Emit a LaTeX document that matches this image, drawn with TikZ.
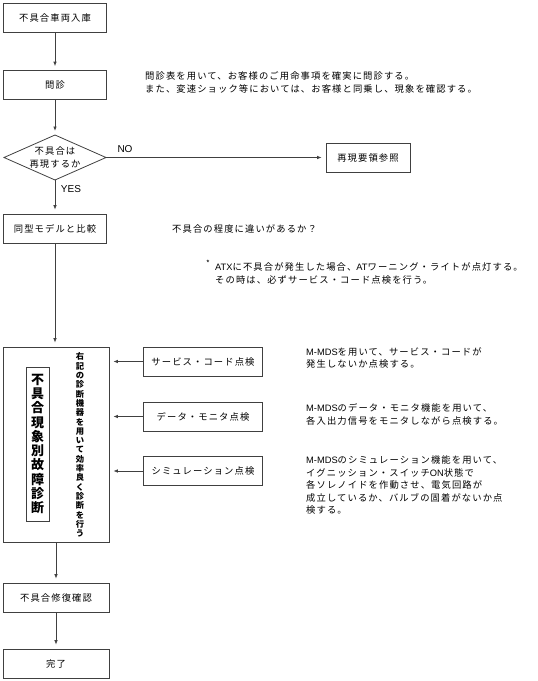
\documentclass[tikz,border=0pt]{standalone}
\usepackage{fontspec}
\setmainfont{Noto Sans CJK JP}
\newfontfamily\lat{Liberation Sans}
\usetikzlibrary{shapes.geometric,arrows.meta}
\begin{document}
\begin{tikzpicture}[x=1pt,y=-1pt,
  ln/.style={draw=black!75, line width=0.8pt},
  jtxt/.style={font=\fontsize{9.3}{12.5}\selectfont\addfontfeature{LetterSpace=12}},
  box/.style={ln, rectangle, inner sep=0pt, jtxt},
  arr/.style={ln, -{Latex[length=4.5pt,width=3.6pt]}, shorten >=4pt},
  note/.style={anchor=west, align=left, inner sep=0pt, jtxt},
  lbl/.style={inner sep=0pt, font=\lat\fontsize{10}{12}\selectfont}]
\useasboundingbox (0,0) rectangle (538,681);

% main column
\node[box, minimum width=103pt, minimum height=29pt] (b1) at (55,17.5) {不具合車両入庫};
\node[box, minimum width=103pt, minimum height=29pt] (b2) at (55,85) {問診};
\coordinate (dN) at (55,135);
\coordinate (dE) at (106,157.5);
\coordinate (dS) at (55,180);
\coordinate (dW) at (4,157.5);
\draw[ln] (dN) -- (dE) -- (dS) -- (dW) -- cycle;
\node[inner sep=0pt, align=center, jtxt] (d) at (55,157.5) {不具合は\\再現するか};
\node[box, minimum width=84pt, minimum height=29pt] (r) at (368,157.5) {再現要領参照};
\node[box, minimum width=103pt, minimum height=29pt] (b3) at (55,228.5) {同型モデルと比較};
\node[ln, rectangle, inner sep=0pt, minimum width=106pt, minimum height=195pt] (big) at (56,444.5) {};
\node[ln, rectangle, inner sep=0pt, minimum width=23pt, minimum height=154pt, align=center,
      font=\fontsize{13}{14.3}\selectfont\bfseries] (title) at (37.5,444) {不\\具\\合\\現\\象\\別\\故\\障\\診\\断};
\node[inner sep=0pt, align=center, font=\fontsize{8.3}{9.3}\selectfont\bfseries] (vt) at (80,445)
  {右\\記\\の\\診\\断\\機\\器\\を\\用\\い\\て\\効\\率\\良\\く\\診\\断\\を\\行\\う};
\node[box, minimum width=106pt, minimum height=29pt] (b4) at (56,597.5) {不具合修復確認};
\node[box, minimum width=106pt, minimum height=29pt] (b5) at (56,663.5) {完了};

% side boxes
\node[box, minimum width=119pt, minimum height=29pt] (s1) at (203,361.5) {サービス・コード点検};
\node[box, minimum width=119pt, minimum height=29pt] (s2) at (203,416.5) {データ・モニタ点検};
\node[box, minimum width=119pt, minimum height=29pt] (s3) at (203,471) {シミュレーション点検};

% connectors
\draw[arr] (b1) -- (b2);
\draw[arr] (b2) -- (dN);
\draw[arr] (dE) -- (r.west);
\draw[arr] (dS) -- (b3.north);
\draw[arr] (b3.south) -- (b3.south |- big.north);
\draw[arr] (big.south -| b4.north) -- (b4.north);
\draw[arr] (b4) -- (b5);
\draw[arr] (s1.west) -- (s1.west -| big.east);
\draw[arr] (s2.west) -- (s2.west -| big.east);
\draw[arr] (s3.west) -- (s3.west -| big.east);

% labels
\node[lbl] (no) at (125,149) {NO};
\node[lbl] (yes) at (71,189) {YES};

% notes
\node[note] (n1) at (145,82.5) {問診表を用いて、お客様のご用命事項を確実に問診する。\\また、変速ショック等においては、お客様と同乗し、現象を確認する。};
\node[note] (n2) at (172,229) {不具合の程度に違いがあるか？};
\node[inner sep=0pt, font=\fontsize{8}{8}\selectfont] (star) at (208,263) {*};
\node[note] (n3) at (215,273.5) {{\lat ATX}に不具合が発生した場合、{\lat AT}ワーニング・ライトが点灯する。\\その時は、必ずサービス・コード点検を行う。};
\node[note] (n4) at (306,358) {{\lat M-MDS}を用いて、サービス・コードが\\発生しないか点検する。};
\node[note] (n5) at (306,414.5) {{\lat M-MDS}のデータ・モニタ機能を用いて、\\各入出力信号をモニタしながら点検する。};
\node[note] (n6) at (306,485) {{\lat M-MDS}のシミュレーション機能を用いて、\\イグニッション・スイッチ{\lat ON}状態で\\各ソレノイドを作動させ、電気回路が\\成立しているか、バルブの固着がないか点\\検する。};
\end{tikzpicture}
\end{document}
